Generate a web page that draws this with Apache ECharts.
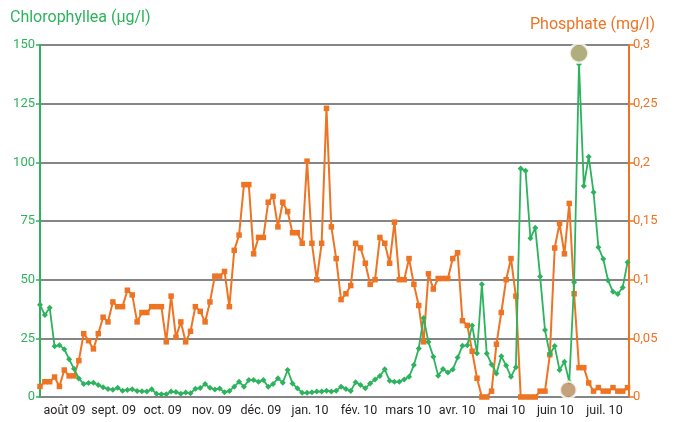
<!DOCTYPE html>
<html><head><meta charset="utf-8">
<script src="https://cdn.jsdelivr.net/npm/echarts@6/dist/echarts.min.js"></script>
<style>html,body{margin:0;padding:0;background:#fff}#c{width:675px;height:422px}</style>
</head><body><div id="c"></div>
<script>
const months = ['août 09','sept. 09','oct. 09','nov. 09','déc. 09','jan. 10','fév. 10','mars 10','avr. 10','mai 10','juin 10','juil. 10'];
const chlorophyll = [
39.3, 34.9, 38.0, 21.6, 22.1, 20.4, 16.1, 12.0, 7.9, 5.5,
6.0, 6.1, 5.1, 4.2, 3.4, 3.1, 3.9, 2.7, 3.0, 3.3,
2.6, 2.5, 2.3, 3.3, 1.4, 1.2, 1.2, 2.3, 2.1, 1.4,
1.9, 1.6, 3.5, 3.8, 5.5, 3.9, 3.2, 3.6, 2.0, 2.6,
4.4, 6.5, 4.4, 7.2, 7.2, 6.5, 7.2, 4.4, 5.5, 8.0,
6.1, 11.5, 5.8, 3.7, 1.8, 1.8, 2.0, 2.3, 2.3, 2.7,
2.3, 2.7, 4.4, 3.4, 2.6, 6.3, 5.1, 3.7, 5.8, 7.5,
8.9, 11.8, 6.9, 6.5, 6.5, 7.5, 8.6, 13.6, 20.7, 33.7,
23.4, 17.2, 9.1, 11.9, 10.4, 11.7, 16.8, 21.8, 22.0, 30.5,
18.6, 48.1, 18.5, 13.9, 10.0, 17.4, 13.4, 8.6, 12.7, 97.4,
96.4, 67.6, 72.1, 51.3, 28.5, 18.2, 21.7, 11.5, 15.0, 6.5,
48.9, 141.9, 89.9, 102.4, 87.2, 63.8, 58.8, 49.6, 44.9, 43.9,
46.7, 57.4];
const phosphate = [
0.009, 0.013, 0.013, 0.017, 0.009, 0.023, 0.018, 0.018, 0.031, 0.054,
0.048, 0.041, 0.054, 0.068, 0.064, 0.081, 0.077, 0.077, 0.091, 0.087,
0.064, 0.072, 0.072, 0.077, 0.077, 0.077, 0.047, 0.086, 0.051, 0.064,
0.047, 0.056, 0.077, 0.073, 0.064, 0.081, 0.103, 0.103, 0.107, 0.077,
0.125, 0.138, 0.181, 0.181, 0.122, 0.136, 0.136, 0.166, 0.171, 0.145,
0.166, 0.158, 0.140, 0.140, 0.131, 0.201, 0.131, 0.100, 0.131, 0.246,
0.145, 0.118, 0.083, 0.088, 0.095, 0.131, 0.127, 0.114, 0.096, 0.100,
0.136, 0.131, 0.114, 0.149, 0.100, 0.100, 0.118, 0.096, 0.078, 0.047,
0.105, 0.092, 0.101, 0.101, 0.101, 0.118, 0.123, 0.065, 0.061, 0.039,
0.016, 0, 0, 0.005, 0.045, 0.072, 0.100, 0.118, 0.086, 0,
0, 0, 0, 0.005, 0.005, 0.036, 0.127, 0.148, 0.122, 0.165,
0.088, 0.025, 0.025, 0.012, 0.005, 0.008, 0.005, 0.005, 0.008, 0.005,
0.005, 0.008];
const peakMarker = [[111, 146.5]];
const lowMarker = [[108.8, 3]];

const GREEN = '#2db35d', ORANGE = '#ee7423', GRID = '#858585';
const FONT = 'Roboto';
const chart = echarts.init(document.getElementById('c'));
chart.setOption({
  animation: false,
  backgroundColor: '#fff',
  textStyle: {fontFamily: FONT},
  grid: {left: 40, right: 46, top: 45, bottom: 25},
  graphic: [
    {type: 'text', left: 10, top: 10, style: {text: 'Chlorophyllea (µg/l)', fill: GREEN, font: '16px ' + FONT}},
    {type: 'text', right: 20, top: 17, style: {text: 'Phosphate (mg/l)', fill: ORANGE, font: '16px ' + FONT}}
  ],
  xAxis: [
    {type: 'category', data: months, boundaryGap: true, position: 'bottom',
     axisLine: {lineStyle: {color: GRID, width: 1.5}},
     axisTick: {length: 14, lineStyle: {color: GRID, width: 1.5}},
     axisLabel: {interval: 0, hideOverlap: false, color: '#231f20', fontSize: 12.5, margin: 7, fontFamily: FONT},
     splitLine: {show: false}},
    {type: 'value', min: 0, max: 121.3, show: false}
  ],
  yAxis: [
    {type: 'value', min: 0, max: 150, interval: 25,
     axisLine: {show: true, lineStyle: {color: GREEN, width: 2}},
     axisTick: {show: true, length: 4, lineStyle: {color: GREEN, width: 1.5}},
     axisLabel: {color: GREEN, fontSize: 13, margin: 5, fontFamily: FONT},
     splitLine: {show: true, lineStyle: {color: GRID, width: 2}}},
    {type: 'value', position: 'right', min: 0, max: 0.3, interval: 0.05,
     axisLine: {show: true, lineStyle: {color: ORANGE, width: 2}},
     axisTick: {show: true, length: 5, lineStyle: {color: ORANGE, width: 1.5}},
     axisLabel: {color: ORANGE, fontSize: 13, margin: 4, fontFamily: FONT,
       formatter: v => String(Math.round(v * 100) / 100).replace('.', ',')},
     splitLine: {show: false}}
  ],
  series: [
    {name: 'Phosphate', type: 'line', xAxisIndex: 1, yAxisIndex: 1,
     data: phosphate.map((v, i) => [i, v]),
     symbol: 'rect', symbolSize: 5.5, showSymbol: true,
     lineStyle: {color: ORANGE, width: 2}, itemStyle: {color: ORANGE}, z: 3},
    {name: 'Chlorophylle a', type: 'line', xAxisIndex: 1, yAxisIndex: 0,
     data: chlorophyll.map((v, i) => [i, v]),
     symbol: 'diamond', symbolSize: 6, showSymbol: true,
     lineStyle: {color: GREEN, width: 1.8}, itemStyle: {color: GREEN}, z: 4},
    {type: 'scatter', xAxisIndex: 1, yAxisIndex: 0, data: peakMarker, symbolSize: 19,
     itemStyle: {color: '#9d9a5c', borderColor: '#fff', borderWidth: 2.5}, z: 6},
    {type: 'scatter', xAxisIndex: 1, yAxisIndex: 0, data: lowMarker, symbolSize: 17,
     itemStyle: {color: '#b88a5e', borderColor: '#fff', borderWidth: 2.5}, z: 6}
  ]
});
</script></body></html>
